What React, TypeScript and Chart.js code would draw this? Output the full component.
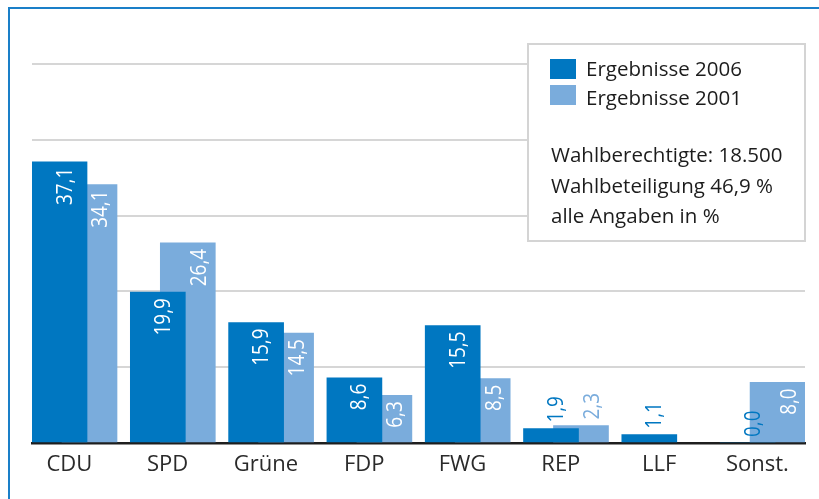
import React, { useEffect, useRef } from "react";
import { Chart, registerables } from "chart.js";

Chart.register(...registerables);

const categories = ["CDU", "SPD", "Grüne", "FDP", "FWG", "REP", "LLF", "Sonst."];
const results2006 = [37.1, 19.9, 15.9, 8.6, 15.5, 1.9, 1.1, 0.0];
const results2001: (number | null)[] = [34.1, 26.4, 14.5, 6.3, 8.5, 2.3, null, 8.0];
const seriesLabels = ["Ergebnisse 2006", "Ergebnisse 2001"];
const infoLines = ["Wahlberechtigte: 18.500", "Wahlbeteiligung 46,9 %", "alle Angaben in %"];
const yMax = 50;
const yStep = 10;

const DARK = "#0077c1";
const LIGHT = "#7aacdc";
const seriesColors = [DARK, LIGHT];
const seriesValues = [results2006, results2001];
const FONT = '"Open Sans", "Noto Sans", sans-serif';
const SHIFT = 0.305; // offset of the 2001 bar relative to the 2006 bar (in category units)
const LABEL_SHIFT = 0.1;

const valueLabels = {
  id: "valueLabels",
  afterDatasetsDraw(chart: any) {
    const ctx = chart.ctx;
    seriesValues.forEach((vals, di) => {
      const meta = chart.getDatasetMeta(di);
      meta.data.forEach((bar: any, i: number) => {
        const v = vals[i];
        if (v == null) return;
        const text = v.toFixed(1).replace(".", ",");
        const { x, y } = bar.getProps(["x", "y"], true);
        const inside = v >= 3;
        const lx = x + (di === 0 ? 6 : 12);
        ctx.save();
        ctx.font = `21px ${FONT}`;
        ctx.fillStyle = inside ? "#ffffff" : seriesColors[di];
        ctx.translate(lx, inside ? y + 6 : y - 6);
        ctx.rotate(-Math.PI / 2);
        ctx.scale(0.9, 1);
        ctx.textAlign = inside ? "right" : "left";
        ctx.textBaseline = "middle";
        ctx.fillText(text, 0, 0);
        ctx.restore();
      });
    });
  },
};

const legendBox = {
  id: "legendBox",
  afterDraw(chart: any) {
    const ctx = chart.ctx;
    ctx.save();
    ctx.fillStyle = "#ffffff";
    ctx.fillRect(527, 43, 279, 199);
    ctx.strokeStyle = "#d4d4d4";
    ctx.lineWidth = 2;
    ctx.strokeRect(528, 44, 277, 197);
    ctx.font = `20.5px ${FONT}`;
    ctx.textBaseline = "alphabetic";
    ctx.textAlign = "left";
    const sw = [59, 85];
    const tb = [75.5, 104.5];
    seriesLabels.forEach((lab, i) => {
      ctx.fillStyle = seriesColors[i];
      ctx.fillRect(550, sw[i], 26, 20);
      ctx.fillStyle = "#1c1c1c";
      ctx.fillText(lab, 586, tb[i]);
    });
    const ib = [162, 192.5, 223];
    infoLines.forEach((line, i) => {
      ctx.fillStyle = "#1c1c1c";
      ctx.fillText(line, 551, ib[i]);
    });
    ctx.restore();
  },
};

export default function App() {
  const ref = useRef<HTMLCanvasElement | null>(null);
  useEffect(() => {
    document.body.style.margin = "0";
    if (!ref.current) return;
    const chart = new Chart(ref.current, {
      type: "bar",
      data: {
        datasets: [
          {
            label: seriesLabels[0],
            data: results2006.map((v, i) => ({ x: i, y: v })),
            backgroundColor: DARK,
            borderWidth: 0,
            barThickness: 55,
            grouped: false,
          } as any,
          {
            label: seriesLabels[1],
            data: results2001.map((v, i) => ({ x: i + SHIFT, y: v })),
            backgroundColor: LIGHT,
            borderWidth: 0,
            barThickness: 55,
            grouped: false,
          } as any,
        ],
      },
      options: {
        responsive: false,
        animation: false,
        devicePixelRatio: 1,
        layout: { padding: { left: 32, right: 14, top: 64, bottom: 0 } },
        plugins: { legend: { display: false }, tooltip: { enabled: false } },
        scales: {
          x: {
            type: "linear",
            min: -0.28,
            max: 7.584,
            offset: false,
            bounds: "ticks",
            z: 1,
            grid: { display: false, drawTicks: false, offset: false },
            border: { display: true, color: "#1e1e1e", width: 2.5 },
            afterBuildTicks: (axis: any) => {
              axis.ticks = categories.map((_, i) => ({ value: i + LABEL_SHIFT }));
            },
            afterFit: (s: any) => {
              s.height = 56;
            },
            ticks: {
              autoSkip: false,
              maxRotation: 0,
              padding: 9,
              color: "#2a2a2a",
              font: { family: FONT, size: 22 },
              callback: (_v: any, index: number) => categories[index],
            },
          } as any,
          y: {
            min: 0,
            max: yMax,
            ticks: { display: false, stepSize: yStep },
            grid: { color: "#d6d6d6", lineWidth: 2, drawTicks: false },
            border: { display: false },
            afterFit: (s: any) => {
              s.width = 0;
            },
          } as any,
        },
      },
      plugins: [valueLabels, legendBox],
    });
    return () => chart.destroy();
  }, []);
  return (
    <div style={{ position: "relative", width: 819, height: 499, overflow: "hidden", background: "#fff" }}>
      <canvas ref={ref} width={819} height={499} style={{ display: "block" }} />
      <div
        style={{
          position: "absolute",
          left: 8,
          top: 7,
          width: 830,
          height: 520,
          borderTop: "2px solid #1a7fc8",
          borderLeft: "2px solid #1a7fc8",
          pointerEvents: "none",
        }}
      />
    </div>
  );
}
